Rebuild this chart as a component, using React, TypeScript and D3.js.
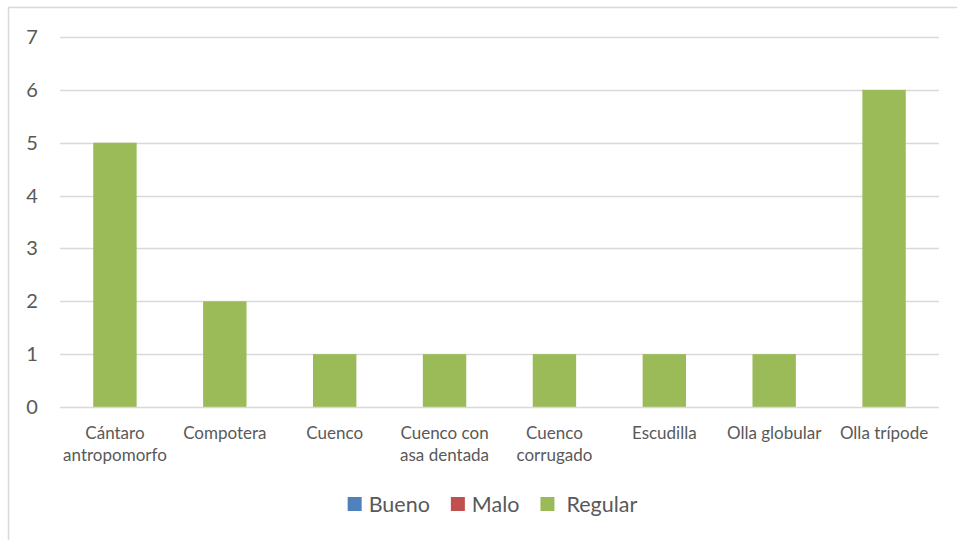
import * as d3 from 'd3';
import { useEffect, useRef } from 'react';

const categories = [
  'Cántaro\nantropomorfo',
  'Compotera',
  'Cuenco',
  'Cuenco con\nasa dentada',
  'Cuenco\ncorrugado',
  'Escudilla',
  'Olla globular',
  'Olla trípode',
];
const bueno = [0, 0, 0, 0, 0, 0, 0, 0];
const malo = [0, 0, 0, 0, 0, 0, 0, 0];
const regular = [5, 2, 1, 1, 1, 1, 1, 6];
const yTicks = [0, 1, 2, 3, 4, 5, 6, 7];

const series = [
  { name: 'Bueno', values: bueno, color: '#4F81BD' },
  { name: 'Malo', values: malo, color: '#C0504D' },
  { name: 'Regular', values: regular, color: '#9BBB59' },
];

const FONT = 'Lato, "Open Sans", sans-serif';

export default function App() {
  const ref = useRef<SVGSVGElement>(null);

  useEffect(() => {
    const svg = d3.select(ref.current);
    svg.selectAll('*').remove();

    const W = 957, H = 540;
    const left = 60, right = 939, top = 37, bottom = 407;

    // chart frame (cropped on the right/bottom in the reference)
    svg.append('rect')
      .attr('x', 8.5).attr('y', 7.5)
      .attr('width', W + 20).attr('height', H + 20)
      .attr('fill', 'white').attr('stroke', '#d9d9d9').attr('stroke-width', 1.5);

    const x = d3.scaleBand().domain(categories).range([left, right]).paddingInner(0).paddingOuter(0);
    const y = d3.scaleLinear().domain([0, 7]).range([bottom, top]);

    const g = svg.append('g');

    // gridlines
    g.selectAll('line.grid')
      .data(yTicks.filter((t) => t > 0))
      .join('line')
      .attr('class', 'grid')
      .attr('x1', left).attr('x2', right)
      .attr('y1', (d) => Math.round(y(d)) + 0.5)
      .attr('y2', (d) => Math.round(y(d)) + 0.5)
      .attr('stroke', '#d9d9d9').attr('stroke-width', 1.3);

    // y tick labels
    g.selectAll('text.ytick')
      .data(yTicks)
      .join('text')
      .attr('class', 'ytick')
      .attr('x', 32).attr('y', (d) => y(d))
      .attr('dy', '0.35em')
      .attr('text-anchor', 'middle')
      .attr('font-family', FONT).attr('font-size', 20)
      .attr('fill', '#595959')
      .text((d) => d);

    // bars: only "Regular" has non-zero values, drawn centered in each band
    const barW = x.bandwidth() * 0.395;
    series.forEach((s) => {
      g.selectAll(`rect.bar-${s.name}`)
        .data(s.values.map((v, i) => ({ v, c: categories[i] })).filter((d) => d.v > 0))
        .join('rect')
        .attr('class', `bar-${s.name}`)
        .attr('x', (d) => (x(d.c) as number) + x.bandwidth() / 2 - barW / 2)
        .attr('width', barW)
        .attr('y', (d) => y(d.v))
        .attr('height', (d) => y(0) - y(d.v))
        .attr('fill', s.color);
    });

    // x axis line
    g.append('line')
      .attr('x1', left).attr('x2', right)
      .attr('y1', bottom + 0.5).attr('y2', bottom + 0.5)
      .attr('stroke', '#d9d9d9').attr('stroke-width', 1.5);

    // x labels
    const xl = g.selectAll('text.xl')
      .data(categories)
      .join('text')
      .attr('class', 'xl')
      .attr('text-anchor', 'middle')
      .attr('font-family', FONT).attr('font-size', 17)
      .attr('fill', '#595959');
    xl.each(function (d) {
      const cx = (x(d) as number) + x.bandwidth() / 2;
      d3.select(this)
        .selectAll('tspan')
        .data(d.split('\n'))
        .join('tspan')
        .attr('x', cx)
        .attr('y', (_, i) => 438.5 + i * 22.5)
        .text((t) => t);
    });

    // legend
    const leg = svg.append('g');
    const items = leg.selectAll('g').data(series).join('g');
    items.append('rect')
      .attr('width', 14).attr('height', 14)
      .attr('y', 497)
      .attr('fill', (d) => d.color);
    items.append('text')
      .attr('y', 504).attr('dy', '0.36em')
      .attr('font-family', FONT).attr('font-size', 21.5)
      .attr('fill', '#595959')
      .text((d) => d.name);
    let cur = 0;
    const gap = 21;
    items.each(function (d) {
      const it = d3.select(this);
      const tw = (it.select('text').node() as SVGTextElement).getComputedTextLength();
      const off = d.name === 'Regular' ? 26 : 21;
      it.select('rect').attr('x', cur);
      it.select('text').attr('x', cur + off);
      cur += off + tw + gap;
    });
    const total = cur - gap;
    leg.attr('transform', `translate(${492.5 - total / 2},0)`);
  }, []);

  return (
    <svg
      ref={ref}
      width={957}
      height={540}
      style={{ position: 'absolute', left: 0, top: 0, background: 'white' }}
    />
  );
}
